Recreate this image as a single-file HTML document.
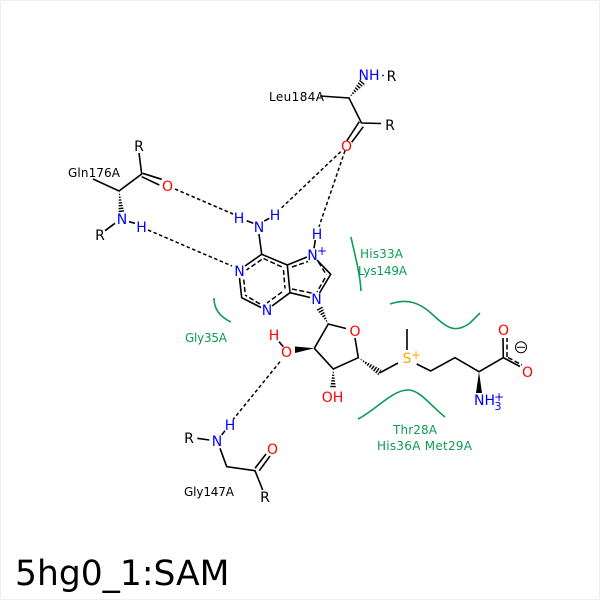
<!DOCTYPE html>
<html><head><meta charset="utf-8"><style>
html,body{margin:0;padding:0;background:#fff}
svg{display:block}
text{font-family:"DejaVu Sans",sans-serif}
.a{font-size:14px;text-anchor:middle}
.l{font-size:12px;fill:#000}
.g{font-size:12px;fill:#0d9b55}
.b{fill:#0000ff}.r{fill:#ff0000}.k{fill:#000}
</style></head><body>
<svg width="600" height="600" viewBox="0 0 600 600" xmlns="http://www.w3.org/2000/svg">
<defs>
<clipPath id="w1"><polygon points="119,191 124.5,212.5 118.5,213"/></clipPath>
<clipPath id="w2"><polygon points="349,98 360,79.5 365,84"/></clipPath>
<clipPath id="w3"><polygon points="328.3,324 316,309 322,305.5"/></clipPath>
<clipPath id="w4"><polygon points="358.3,357.7 381.5,369.5 378.5,375.5"/></clipPath>
<clipPath id="w5"><polygon points="333.3,369 336,388 330,388"/></clipPath>
</defs>
<rect x="0.5" y="0.5" width="599" height="599" fill="#fff" stroke="#eeeeee"/>

<g fill="none" stroke="#0d9b55" stroke-width="1.6">
<path d="M390,304 C408,298 420,303 432,314 C447,328 455,334 470,323 L480,313"/>
<path d="M358,419 C376,410 392,390 408,390 C420,390 430,405 445,417"/>
<path d="M351,237 C354,252 360,272 361,291"/>
<path d="M214,298 C214,309 220,317 231,322"/>
</g>

<g stroke="#000" stroke-width="1.6" fill="none">
<!-- Gln -->
<path d="M93,179 L119,191 L141.7,174 L139,153"/>
<path d="M142.7,173.3 L161.7,179.3"/><path d="M141.7,176.7 L159.3,185"/>
<path d="M105,230.7 L115,223.3"/>
<path d="M129,221.7 L135,223.3"/>
<!-- Leu -->
<path d="M320,96 L349,98 L361.5,123 L381,123.5"/>
<path d="M359.3,121.7 L346.7,141"/><path d="M363.3,126.7 L351.7,142.3"/>
<!-- adenine -->
<path d="M246.7,220.7 L253.3,223.3"/><path d="M264.3,221 L269.3,218.3"/>
<path d="M315.3,240 L314,248.3"/>
<path d="M259,234 L261.7,254.3 L245,266"/>
<path d="M261.7,254.3 L287.3,265 L307,257"/>
<path d="M239.5,278 L241.7,297.7 L261,307.5"/>
<path d="M272,306 L290,292.7 L287.3,265"/>
<path d="M290,292.7 L310,297.5"/>
<path d="M317,260 L330.7,274.3 L319.5,293"/>
<!-- ribose -->
<path d="M314.3,348.3 L328.3,324 L346,328.5"/>
<path d="M355,338 L358.3,357.7 L333.3,369 L314.3,348.3"/>
<path d="M380,372.7 L398,363"/>
<path d="M279,341.7 L283.3,346.7"/>
<!-- SAM tail -->
<path d="M407,329 L407,350"/>
<path d="M416.7,364 L430.7,371 L455,357.7 L479,371.7 L503.3,357.7 L520,366.5"/>
<path d="M503.3,357.7 L503,338"/>
<!-- Gly -->
<path d="M197.3,438.3 L209.3,440"/><path d="M221.7,435 L225,430.7"/>
<path d="M220,448.3 L226.7,466.7 L255,470.7 L262.7,490"/>
<path d="M255,468.3 L266,454"/><path d="M259.3,470.7 L270,456"/>
</g>

<!-- aromatic inner dashes -->
<g stroke="#000" stroke-width="1.5" fill="none" stroke-dasharray="5 2.5">
<path d="M261.7,259.5 L246.5,270"/>
<path d="M263.5,258.5 L282,267"/>
<path d="M283.5,270 L285,288.5"/>
<path d="M282,292 L267,303"/>
<path d="M260,304 L245,295"/>
<path d="M245,292 L243.5,277"/>
<path d="M292,267 L308,261.5"/>
<path d="M318.5,262 L326.5,275"/>
<path d="M325,278 L317,292"/>
<path d="M311.5,293 L292,289"/>
<path d="M507,357 L507,338"/>
<path d="M508,357.5 L522,365"/>
</g>

<!-- H bonds -->
<g stroke="#000" stroke-width="1.5" fill="none" stroke-dasharray="3.5 2.5">
<path d="M175,189 L233,214"/>
<path d="M148,230 L232,266"/>
<path d="M340.7,151.7 L280,209.3"/>
<path d="M345,150.7 L319,226.7"/>
<path d="M280,361.7 L233.3,419.3"/>
</g>

<!-- hashed wedges -->
<g stroke="#000" fill="none" stroke-width="9" stroke-dasharray="1.4 1.4">
<line x1="119" y1="191" x2="121.5" y2="213" clip-path="url(#w1)"/>
<line x1="349" y1="98" x2="362.5" y2="82" clip-path="url(#w2)"/>
<line x1="328.3" y1="324" x2="319" y2="307" clip-path="url(#w3)"/>
<line x1="358.3" y1="357.7" x2="380" y2="372.7" clip-path="url(#w4)"/>
<line x1="333.3" y1="369" x2="333" y2="388" clip-path="url(#w5)"/>
</g>
<!-- solid wedges -->
<polygon points="314.3,348.3 295,346.5 295,353" fill="#000"/>
<polygon points="479,371.7 476,393 482,393" fill="#000"/>
<circle cx="521" cy="347.3" r="5.5" fill="none" stroke="#000" stroke-width="1"/>
<line x1="517" y1="347.3" x2="525" y2="347.3" stroke="#000" stroke-width="1"/>
<circle cx="383" cy="75.5" r="0.9" fill="#000"/>

<!-- residue labels -->
<text class="l" x="68" y="177" textLength="52">Gln176A</text>
<text class="l" x="269" y="101" textLength="55">Leu184A</text>
<text class="l" x="184" y="496" textLength="50">Gly147A</text>

<text class="g" x="360" y="258" textLength="43">His33A</text>
<text class="g" x="358" y="275" textLength="49">Lys149A</text>
<text class="g" x="185" y="342" textLength="42">Gly35A</text>
<text class="g" x="393" y="434" textLength="44">Thr28A</text>
<text class="g" x="377" y="450" textLength="95">His36A Met29A</text>

<!-- atom labels -->
<text class="a k" x="139" y="151">R</text>
<text class="a r" x="167.5" y="191">O</text>
<text class="a b" x="122" y="224">N</text>
<text class="a b" x="141.5" y="232">H</text>
<text class="a k" x="100" y="240">R</text>
<text class="a b" x="369" y="80">NH</text>
<text class="a k" x="391.5" y="81">R</text>
<text class="a k" x="390" y="130">R</text>
<text class="a r" x="346.5" y="151">O</text>
<text class="a b" x="239" y="223">H</text>
<text class="a b" x="259" y="232">N</text>
<text class="a b" x="275" y="220">H</text>
<text class="a b" x="317" y="239">H</text>
<text class="a b" x="312.5" y="260">N</text>
<text class="a b" x="322" y="255" style="font-size:12px">+</text>
<text class="a b" x="239.5" y="276">N</text>
<text class="a b" x="267" y="315">N</text>
<text class="a b" x="316.5" y="304">N</text>
<text class="a r" x="355" y="336">O</text>
<text class="a r" x="274" y="340">H</text>
<text class="a r" x="286.5" y="357">O</text>
<text class="a r" x="332.5" y="402">OH</text>
<text class="a" x="407" y="363" fill="#ffa500">S</text>
<text class="a" x="416" y="359" fill="#ffa500" style="font-size:12px">+</text>
<text class="a r" x="503.5" y="335">O</text>
<text class="a r" x="527.5" y="377">O</text>
<text class="a b" x="484.5" y="405">NH</text>
<text class="a b" x="498" y="410" style="font-size:11px">3</text>
<text class="a b" x="499" y="401" style="font-size:12px">+</text>
<text class="a b" x="217" y="446">N</text>
<text class="a b" x="230" y="430">H</text>
<text class="a k" x="189" y="443">R</text>
<text class="a r" x="272.5" y="454">O</text>
<text class="a k" x="265" y="502">R</text>

<text x="15" y="585" style="font-size:34.5px" fill="#000">5hg0_1:SAM</text>
</svg>
</body></html>
